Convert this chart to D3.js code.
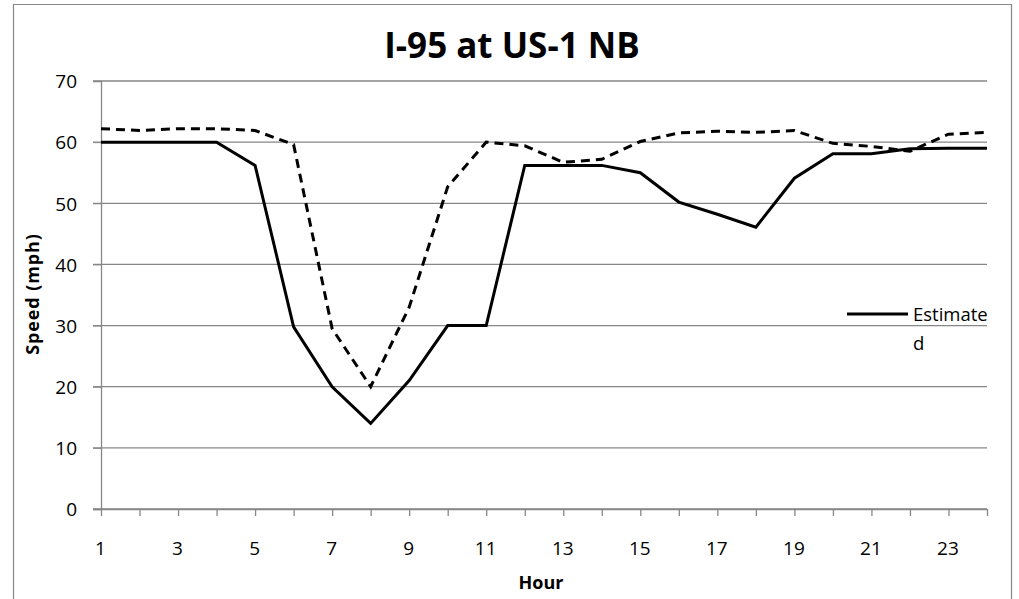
<!DOCTYPE html>
<html>
<head>
<meta charset="utf-8">
<script src="https://cdn.jsdelivr.net/npm/d3@7"></script>
<style>
  body { margin: 0; background: #fff; }
</style>
</head>
<body>
<div id="chart"></div>
<script>
// hours on the x axis
var hours = d3.range(1, 25);

// dashed series (no legend entry visible in the original)
var observed = [62.2, 61.9, 62.2, 62.2, 61.9, 59.6, 29.5, 20, 33, 52.7, 60, 59.4,
                56.7, 57.2, 60.1, 61.5, 61.8, 61.6, 61.9, 59.8, 59.3, 58.5, 61.3, 61.6];

// solid series, "Estimated"
var estimated = [60, 60, 60, 60, 56.2, 29.8, 20, 14, 21, 30, 30, 56.2,
                 56.2, 56.2, 55, 50.2, 48.2, 46.1, 54.1, 58.1, 58.1, 58.9, 59, 59];

var yTicks = [0, 10, 20, 30, 40, 50, 60, 70];
var legendLabel = ["Estimate", "d"];

var width = 1019,
    height = 599,
    margin = { top: 81, right: 32, bottom: 90, left: 101 },
    innerWidth = width - margin.left - margin.right,
    innerHeight = height - margin.top - margin.bottom,
    gridColor = "#878787",
    font = "'Open Sans', sans-serif";

var svg = d3.select("#chart").append("svg")
    .attr("width", width)
    .attr("height", height)
    .style("display", "block");

// chart border (bottom edge falls outside the picture)
svg.append("path")
    .attr("d", "M13.5,599V4.5H1011.5V599")
    .attr("fill", "none")
    .attr("stroke", gridColor)
    .attr("stroke-width", 1.2);

var g = svg.append("g")
    .attr("transform", "translate(" + margin.left + "," + margin.top + ")");

var xScale = d3.scalePoint().domain(hours).range([0, innerWidth]),
    yScale = d3.scaleLinear().domain([0, 70]).range([innerHeight, 0]);

// horizontal gridlines
g.selectAll(".grid")
    .data(yTicks)
  .enter().append("line")
    .attr("class", "grid")
    .attr("x1", -8).attr("x2", innerWidth)
    .attr("y1", d => yScale(d)).attr("y2", d => yScale(d))
    .attr("stroke", gridColor)
    .attr("stroke-width", 1.3);

// y axis
var yAxis = g.append("g")
    .call(d3.axisLeft(yScale).tickValues(yTicks).tickSize(8).tickPadding(16))
    .attr("font-family", font)
    .attr("font-size", 19);
yAxis.select(".domain").attr("stroke", gridColor).attr("stroke-width", 1.3);
yAxis.selectAll(".tick line").attr("stroke", gridColor);
yAxis.selectAll("text").attr("fill", "#000").attr("dy", "0.36em");

// x axis: a tick at every hour, a label at every other hour
var xAxis = g.append("g")
    .attr("transform", "translate(0," + innerHeight + ")")
    .call(d3.axisBottom(xScale).tickSize(7).tickPadding(26)
        .tickFormat(d => d % 2 ? d : null))
    .attr("font-family", font)
    .attr("font-size", 19);
xAxis.select(".domain").attr("stroke", gridColor).attr("stroke-width", 1.3)
    .attr("d", "M-8,0.5H" + innerWidth);
xAxis.selectAll(".tick line").attr("stroke", gridColor).attr("stroke-width", 1.3);
xAxis.selectAll(".tick text")
    .attr("fill", "#000")
    .attr("dx", -1)
    .filter(d => d % 2 === 0).remove();

var line = d3.line()
    .x((d, i) => xScale(hours[i]))
    .y(d => yScale(d));

g.append("path")
    .datum(observed)
    .attr("fill", "none")
    .attr("stroke", "#000")
    .attr("stroke-width", 3)
    .attr("stroke-dasharray", "9,6")
    .attr("d", line);

g.append("path")
    .datum(estimated)
    .attr("fill", "none")
    .attr("stroke", "#000")
    .attr("stroke-width", 3)
    .attr("d", line);

// title
svg.append("text")
    .attr("x", 512).attr("y", 46)
    .attr("dy", "0.35em")
    .attr("text-anchor", "middle")
    .attr("font-family", font)
    .attr("font-size", 35)
    .attr("font-weight", "bold")
    .text("I-95 at US-1 NB");

// axis titles
svg.append("text")
    .attr("transform", "translate(33,294) rotate(-90)")
    .attr("dy", "0.35em")
    .attr("text-anchor", "middle")
    .attr("font-family", font)
    .attr("font-size", 18)
    .attr("font-weight", "bold")
    .attr("letter-spacing", 0.9)
    .text("Speed (mph)");

svg.append("text")
    .attr("x", 541).attr("y", 583)
    .attr("dy", "0.35em")
    .attr("text-anchor", "middle")
    .attr("font-family", font)
    .attr("font-size", 18)
    .attr("font-weight", "bold")
    .text("Hour");

// legend
var legend = svg.append("g").attr("transform", "translate(847,314)");
legend.append("line")
    .attr("x1", 0).attr("x2", 61)
    .attr("stroke", "#000")
    .attr("stroke-width", 3.2);
legend.selectAll(".lab")
    .data(legendLabel)
  .enter().append("text")
    .attr("class", "lab")
    .attr("x", 66)
    .attr("y", (d, i) => 1 + i * 29)
    .attr("dy", "0.35em")
    .attr("font-family", font)
    .attr("font-size", 18.5)
    .text(d => d);
</script>
</body>
</html>
